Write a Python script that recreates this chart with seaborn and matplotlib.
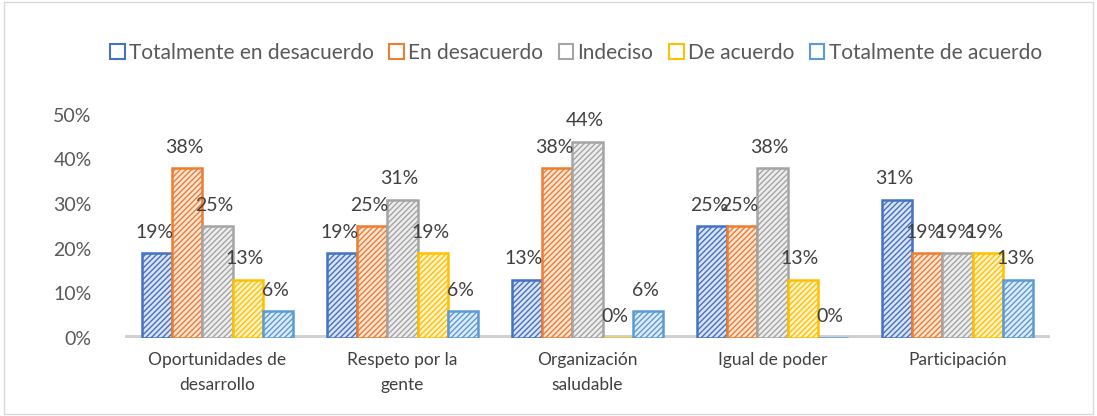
import pandas as pd
import matplotlib
matplotlib.use("Agg")
import matplotlib.pyplot as plt
from matplotlib.patches import Patch, Rectangle
import seaborn as sns

sns.set_theme(style="white")
plt.rcParams["font.family"] = ["Lato", "DejaVu Sans"]

categories = ["Oportunidades de\ndesarrollo", "Respeto por la\ngente", "Organización\nsaludable",
              "Igual de poder", "Participación"]
series = ["Totalmente en desacuerdo", "En desacuerdo", "Indeciso", "De acuerdo", "Totalmente de acuerdo"]
totalmente_desacuerdo = [0.19, 0.19, 0.13, 0.25, 0.31]
en_desacuerdo = [0.38, 0.25, 0.38, 0.25, 0.19]
indeciso = [0.25, 0.31, 0.44, 0.38, 0.19]
de_acuerdo = [0.13, 0.19, 0.00, 0.13, 0.19]
totalmente_acuerdo = [0.06, 0.06, 0.06, 0.00, 0.13]
colors = ["#4472C4", "#ED7D31", "#A5A5A5", "#FFC000", "#5B9BD5"]
fills = ["#DAE3F3", "#FBE5D6", "#EDEDED", "#FFF2CC", "#DEEBF7"]

values = [totalmente_desacuerdo, en_desacuerdo, indeciso, de_acuerdo, totalmente_acuerdo]
df = pd.DataFrame(
    [(c, s, v[i]) for s, v in zip(series, values) for i, c in enumerate(categories)],
    columns=["categoria", "serie", "valor"],
)

fig = plt.figure(figsize=(10.97, 4.16), dpi=100)
ax = fig.add_axes([0.114, 0.188, 0.843, 0.536])
sns.barplot(data=df, x="categoria", y="valor", hue="serie", hue_order=series,
            palette=colors, width=0.82, ax=ax, legend=False)

# grey "floor" under the bars, like the 3D base in the original
ax.axhline(0, color="#d0d0d0", linewidth=5, zorder=0)

for container, col, fc in zip(ax.containers, colors, fills):
    for bar in container:
        bar.set_facecolor(fc)
        bar.set_edgecolor(col)
        bar.set_hatch("//////")
        bar.set_linewidth(1.8)
        h = bar.get_height()
        ax.annotate(f"{h * 100:.0f}%", (bar.get_x() + bar.get_width() / 2, h),
                    xytext=(-2, 9), textcoords="offset points", ha="center", va="bottom",
                    fontsize=14, color="#404040")

ax.set_ylim(0, 0.5)
ax.set_yticks([0, 0.1, 0.2, 0.3, 0.4, 0.5])
ax.set_yticklabels([f"{int(t * 100)}%" for t in ax.get_yticks()], fontsize=14, color="#595959")
ax.tick_params(axis="x", labelsize=12.5, labelcolor="#404040", length=0, pad=10)
ax.tick_params(axis="y", length=0, pad=24)
for lbl in ax.get_xticklabels():
    lbl.set_linespacing(1.7)
ax.set_xlabel("")
ax.set_ylabel("")
sns.despine(ax=ax, left=True, bottom=True)

handles = [Patch(facecolor="white", edgecolor=c, linewidth=1.5, label=s) for s, c in zip(series, colors)]
fig.legend(handles=handles, loc="center", bbox_to_anchor=(0.525, 0.873), ncol=5, frameon=False,
           fontsize=15, handlelength=0.7, handleheight=0.7, handletextpad=0.2, columnspacing=0.75,
           labelcolor="#595959")

fig.patches.append(Rectangle((0.004, 0.005), 0.992, 0.99, transform=fig.transFigure,
                             fill=False, edgecolor="#d9d9d9", linewidth=1))

fig.savefig("out.png", dpi=100)
